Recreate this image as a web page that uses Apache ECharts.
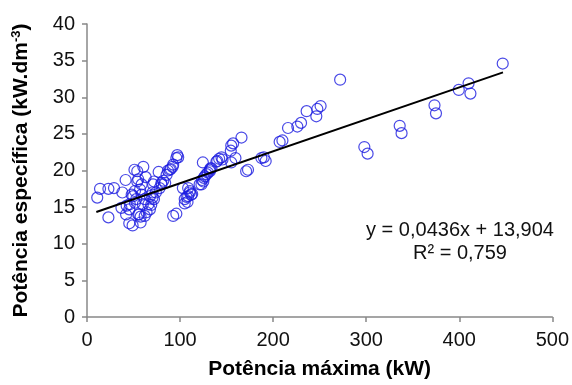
<!DOCTYPE html>
<html>
<head>
<meta charset="utf-8">
<script src="https://cdn.jsdelivr.net/npm/echarts@6/dist/echarts.min.js"></script>
<style>html,body{margin:0;padding:0;background:#fff;overflow:hidden;}#c{width:572px;height:385px;}</style>
</head>
<body>
<div id="c"></div>
<script>
// Potência máxima (kW) vs Potência específica (kW.dm-3)
var points = [
[11,16.3],[14,17.5],[23,17.5],[29,17.6],[23,13.6],[38,17.0],[41.5,18.7],[37,14.9],[42.6,15.2],[46,15.4],
[45.4,14.7],[42,14.0],[45.4,12.8],[49,12.5],[48,16.7],[51.5,17.2],[49.7,16.5],[51.5,15.6],[53,16.1],[51,20.1],
[54,19.9],[55,18.8],[54,18.5],[57,17.4],[58.7,16.7],[58.7,18.1],[55,14.0],[56,14.0],[57.6,13.7],[57.6,12.9],
[60,15.4],[60.5,20.5],
[62,16.1],[63,19.1],[62,13.8],[64,14.3],[66,15.4],[67.6,14.7],[69,15.3],[67.6,16.5],[70.4,17.0],[70.4,16.3],
[72,16.1],[74,17.0],[71,18.1],[72,18.5],[77,19.8],[78,17.6],[80,18.1],[80,18.3],[82,18.6],[84,18.3],
[85.5,19.4],[87,20.0],[89,20.1],[90,20.2],[92,20.5],[92.6,20.8],[96,21.7],[97,22.1],[98,21.8],[92.6,13.8],
[96,14.1],[103,17.6],[105,16.1],[105,15.5],[107,16.4],[108,15.7],[108.7,16.5],[108.7,17.6],[110.5,17.2],
[110.5,17.0],[112,16.7],[113,16.8],
[121,18.1],[123,18.1],[123.7,18.7],[125,18.5],[125.5,19.0],[126.6,19.2],[128.4,19.5],[130,19.7],[132,19.9],
[132,20.1],[132.7,20.3],[133.8,20.3],[124.5,21.1],[139,21.2],[140,21.3],[142,21.6],[144.5,21.8],[145.6,21.5],
[155,21.1],[159.5,21.7],[154.5,22.7],[155,23.4],[157,23.7],[166,24.5],[171,19.9],[173,20.1],[187.4,21.7],
[190,21.8],[192,21.3],[207,23.9],[210,24.1],[216,25.8],[226,26.0],[230,26.5],[236,28.1],[246.4,27.4],
[247.5,28.4],[251,28.8],[272,32.4],[298,23.2],[301.5,22.3],[336,26.1],[338,25.1],[373.4,28.9],[375,27.8],
[399.5,31.0],[410,31.9],[412,30.5],[446.7,34.6]
];
var trendLine = [[10,14.34],[447,33.39]];
var equationText = "y = 0,0436x + 13,904";
var r2Text = "R² = 0,759";
var xTitle = "Potência máxima (kW)";
var yTitle = "Potência específica (kW.dm{s|-3})";

var chart = echarts.init(document.getElementById('c'), null, {renderer:'canvas', width:572, height:385});
var font = 'Liberation Sans, Arial, sans-serif';
chart.setOption({
  animation:false,
  backgroundColor:'#fff',
  grid:{left:87,right:19,top:24,bottom:64,containLabel:false},
  xAxis:{
    type:'value',min:0,max:500,interval:100,
    name:xTitle,nameLocation:'middle',nameGap:42,
    nameTextStyle:{fontFamily:font,fontSize:21,fontWeight:'bold',color:'#000'},
    axisLine:{lineStyle:{color:'#888',width:1.5}},
    axisTick:{show:true,length:5,lineStyle:{color:'#888',width:1.5}},
    axisLabel:{fontFamily:font,fontSize:20,color:'#111',margin:13},
    splitLine:{show:false}
  },
  yAxis:{
    type:'value',min:0,max:40,interval:5,
    name:yTitle,nameLocation:'middle',nameGap:54,
    nameTextStyle:{fontFamily:font,fontSize:21,fontWeight:'bold',color:'#000',
      rich:{s:{fontFamily:font,fontSize:13,fontWeight:'bold',color:'#000',verticalAlign:'top',padding:[0,0,10,0]}}},
    axisLine:{show:true,lineStyle:{color:'#888',width:1.5}},
    axisTick:{show:true,length:5,lineStyle:{color:'#888',width:1.5}},
    axisLabel:{fontFamily:font,fontSize:20,color:'#111',margin:12},
    splitLine:{show:false}
  },
  series:[
    {type:'scatter',data:points,symbol:'circle',symbolSize:11,
     itemStyle:{color:'rgba(0,0,0,0)',borderColor:'#1c1ce0',borderWidth:1.2},z:2},
    {type:'line',data:trendLine,symbol:'none',lineStyle:{color:'#000',width:2},z:3}
  ],
  graphic:[
    {type:'text',position:[460,230],style:{text:equationText,font:'20px '+font,fill:'#111',textAlign:'center',textVerticalAlign:'middle'}},
    {type:'text',position:[460,253],style:{text:r2Text,font:'20px '+font,fill:'#111',textAlign:'center',textVerticalAlign:'middle'}}
  ]
});
</script>
</body>
</html>
